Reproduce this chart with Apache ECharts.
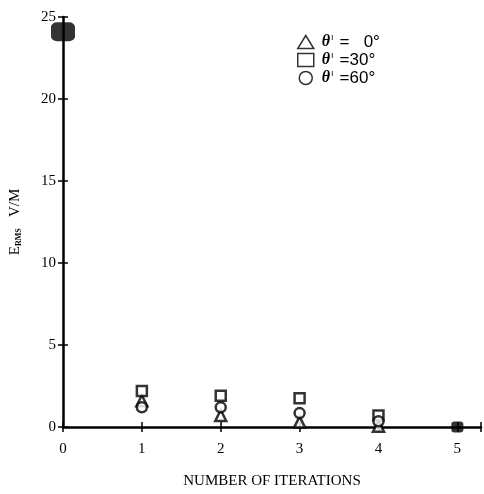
<!DOCTYPE html>
<html><head><meta charset="utf-8">
<script src="https://cdn.jsdelivr.net/npm/echarts@6/dist/echarts.min.js"></script>
<style>html,body{margin:0;padding:0;background:#fff}#c{width:484px;height:494px}</style>
</head><body><div id="c"></div>
<script>
// iterations
const iterations = [1, 2, 3, 4];
// E_RMS (V/M) per incidence angle
const theta0 = [1.6, 0.7, 0.3, 0.05];
const theta30 = [2.2, 1.9, 1.75, 0.7];
const theta60 = [1.2, 1.2, 0.85, 0.35];
// points where all three coincide (drawn filled)
const commonX = [0, 5];
const commonY = [24.1, 0];
const legendNames = ['θ0', 'θ30', 'θ60'];
const legendValues = ['=   0°', '=30°', '=60°'];

const font = 'Liberation Serif';
const pairs = (xs, ys) => xs.map((x, i) => [x, ys[i]]);
const hollow = (name, sym, data, size) => ({
  name, type: 'scatter', symbol: sym, symbolSize: size, data: pairs(iterations, data),
  itemStyle: { color: '#fff', borderColor: '#000', borderWidth: 2.5 }, z: 3
});

const chart = echarts.init(document.getElementById('c'));
chart.setOption({
  animation: false,
  grid: { left: 60, top: 17, width: 426, height: 410 },
  legend: {
    left: 292, top: 28, orient: 'vertical', itemGap: 0.5, itemWidth: 16, itemHeight: 13,
    formatter: n => '{t|θ}{s|ı}{n|' + legendValues[legendNames.indexOf(n)] + '}',
    textStyle: { color: '#000', padding: [0, 0, 0, 3], rich: {
      t: { fontFamily: 'Liberation Serif', fontStyle: 'italic', fontWeight: 'bold', fontSize: 16, color: '#000', lineHeight: 18 },
      s: { fontFamily: 'Liberation Sans', fontSize: 9, color: '#000', verticalAlign: 'top', padding: [0, 6, 6, 1], lineHeight: 18 },
      n: { fontFamily: 'Liberation Sans', fontSize: 17, color: '#000', lineHeight: 18 }
    } },
    data: legendNames.map((n, i) => ({ name: n, icon: ['triangle', 'rect', 'circle'][i],
      itemStyle: { color: '#fff', borderColor: '#000', borderWidth: 1.5 } }))
  },
  xAxis: [{
    type: 'value', min: 0, max: 5.3, interval: 1,
    axisLine: { lineStyle: { color: '#000', width: 2.5 } },
    axisTick: { length: 5, lineStyle: { color: '#000', width: 1.5 } },
    axisLabel: { fontFamily: font, fontSize: 15, color: '#000', margin: 15,
      formatter: v => (v <= 5 ? String(v) : '') },
    splitLine: { show: false },
    name: 'NUMBER OF ITERATIONS', nameLocation: 'middle', nameGap: 47,
    nameTextStyle: { fontFamily: font, fontSize: 15, color: '#000' }
  }, {
    type: 'value', position: 'bottom', min: 0, max: 5.3, interval: 1,
    axisLine: { show: false }, axisLabel: { show: false }, splitLine: { show: false },
    axisTick: { inside: true, length: 5, lineStyle: { color: '#000', width: 1.5 } }
  }],
  yAxis: [{
    type: 'value', min: 0, max: 25, interval: 5,
    axisLine: { lineStyle: { color: '#000', width: 2.5 } },
    axisTick: { length: 5, lineStyle: { color: '#000', width: 1.5 } },
    axisLabel: { fontFamily: font, fontSize: 15, color: '#000', margin: 7 },
    splitLine: { show: false },
    name: '{e|E}{s|RMS}{e|   V/M}', nameLocation: 'middle', nameGap: 40, nameRotate: 90,
    nameTextStyle: { rich: {
      e: { fontFamily: font, fontSize: 15, color: '#000' },
      s: { fontFamily: font, fontSize: 8, color: '#000', fontWeight: 'bold', verticalAlign: 'bottom', padding: [6, 0, 0, 0] }
    } }
  }, {
    type: 'value', position: 'left', min: 0, max: 25, interval: 5,
    axisLine: { show: false }, axisLabel: { show: false }, splitLine: { show: false },
    axisTick: { inside: true, length: 5, lineStyle: { color: '#000', width: 1.5 } }
  }],
  series: [
    hollow(legendNames[0], 'triangle', theta0, 11),
    hollow(legendNames[1], 'rect', theta30, 10),
    hollow(legendNames[2], 'circle', theta60, 10),
    { type: 'scatter', symbol: 'roundRect', data: pairs(commonX, commonY),
      symbolSize: (v) => (v[1] > 10 ? [24, 19] : [12, 11]),
      itemStyle: { color: '#000' }, z: 4 }
  ]
});
</script></body></html>
